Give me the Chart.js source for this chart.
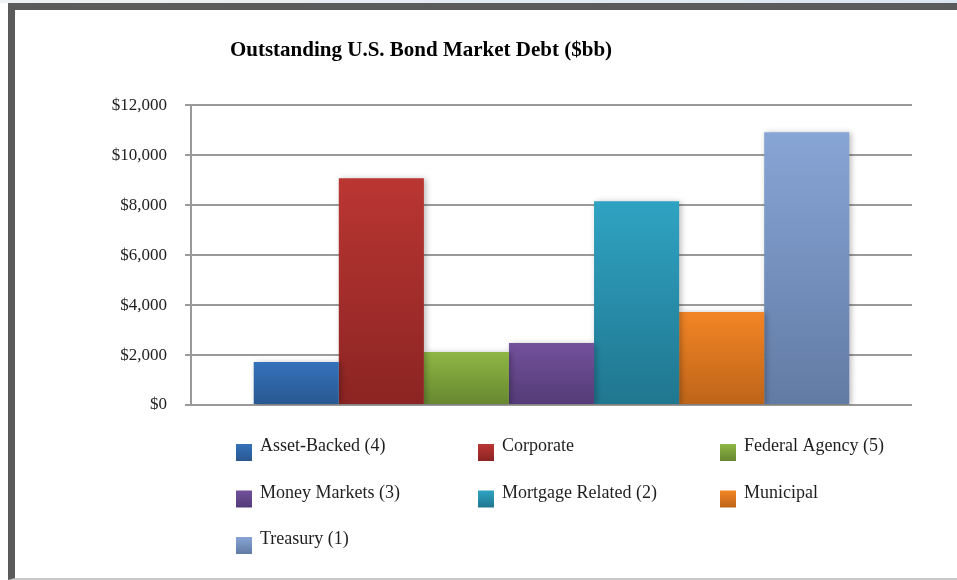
<!DOCTYPE html>
<html>
<head>
<meta charset="utf-8">
<script src="https://cdn.jsdelivr.net/npm/chart.js@4.4.1/dist/chart.umd.min.js"></script>
<style>
  html, body { margin: 0; padding: 0; }
  body { width: 957px; height: 580px; position: relative; overflow: hidden; background: #fff; }
  #strip { position: absolute; left: 0; top: 0; width: 957px; height: 3px;
    background: linear-gradient(to right, #eef1f4, #dce6f0); }
  #frame { position: absolute; left: 8px; top: 3px; width: 960px; height: 568px;
    background: #fff; border-top: 7px solid #5b5b5b; border-left: 7px solid #5b5b5b;
    border-bottom: 2px solid #c8c8c8; }
  #wrap { position: absolute; left: 0; top: 0; width: 957px; height: 580px; }
</style>
</head>
<body>
<div id="strip"></div>
<div id="frame"></div>
<div id="wrap"><canvas id="bondchart"></canvas></div>
<script>
'use strict';
var categories = ['Asset-Backed (4)', 'Corporate', 'Federal Agency (5)', 'Money Markets (3)',
  'Mortgage Related (2)', 'Municipal', 'Treasury (1)'];
var debt = [1720, 9080, 2120, 2480, 8160, 3720, 10920];
var topColors = ['#3471ba', '#ba3633', '#8fb644', '#72519b', '#2fa3c2', '#f28525', '#87a5d5'];
var bottomColors = ['#295890', '#8b2422', '#678731', '#543b77', '#20768f', '#bd6419', '#627ba5'];
var yTicks = [0, 2000, 4000, 6000, 8000, 10000, 12000];

var serif = '"Liberation Serif", "DejaVu Serif", serif';

//vertical gradient for one bar, from its top down to zero
function barGradient(i) {
  return function(c) {
    var chart = c.chart;
    if (!chart.chartArea || !chart.scales.y) return topColors[i];
    var y = chart.scales.y;
    var top = y.getPixelForValue(debt[i]);
    var bot = y.getPixelForValue(0);
    var g = chart.ctx.createLinearGradient(0, top, 0, bot);
    g.addColorStop(0, topColors[i]);
    g.addColorStop(1, bottomColors[i]);
    return g;
  };
}

var datasets = [];
for (var i in categories) {
  datasets.push({
    label: categories[i],
    data: [debt[i]],
    backgroundColor: barGradient(i),
    borderWidth: 0
  });
}

//move the title left like the original
var titlePlace = {
  id: 'titlePlace',
  afterLayout: function(chart) {
    chart.titleBlock.left = 10;
    chart.titleBlock.right = 832;
  }
};

//soft shadow behind the bars
var barShadow = {
  id: 'barShadow',
  beforeDatasetsDraw: function(chart) {
    var ctx = chart.ctx;
    ctx.save();
    ctx.shadowColor = 'rgba(0,0,0,0.28)';
    ctx.shadowBlur = 6;
    ctx.shadowOffsetX = 2;
    ctx.shadowOffsetY = 1;
  },
  afterDatasetsDraw: function(chart) {
    chart.ctx.restore();
  }
};

//legend in a 3 column grid under the plot
var gridLegend = {
  id: 'gridLegend',
  afterDraw: function(chart) {
    var ctx = chart.ctx;
    ctx.save();
    ctx.font = '18px ' + serif;
    ctx.textBaseline = 'alphabetic';
    ctx.textAlign = 'left';
    for (var i = 0; i < categories.length; i++) {
      var col = i % 3;
      var row = Math.floor(i / 3);
      var bx = 236 + col * 242;
      var by = 444 + row * 46.5;
      var g = ctx.createLinearGradient(0, by, 0, by + 17);
      g.addColorStop(0, topColors[i]);
      g.addColorStop(1, bottomColors[i]);
      ctx.fillStyle = g;
      ctx.fillRect(bx, by, 16, 17);
      ctx.fillStyle = '#1e1e1e';
      ctx.fillText(categories[i], bx + 24, by + 7);
    }
    ctx.restore();
  }
};

var ctx = document.getElementById('bondchart');
var myChart = new Chart(ctx, {
  type: 'bar',
  data: {
    labels: [''],
    datasets: datasets
  },
  options: {
    responsive: true,
    maintainAspectRatio: false,
    animation: false,
    categoryPercentage: 0.826,
    barPercentage: 1,
    layout: { padding: { left: 0, right: 45, top: 0, bottom: 175 } },
    plugins: {
      legend: { display: false },
      tooltip: { enabled: false },
      title: {
        display: true,
        text: 'Outstanding U.S. Bond Market Debt ($bb)',
        color: '#000',
        font: { family: serif, size: 21, weight: 'bold' },
        padding: { top: 38, bottom: 42 }
      }
    },
    scales: {
      x: { display: false },
      y: {
        min: 0,
        max: 12000,
        afterFit: function(scale) { scale.width = 191; },
        afterBuildTicks: function(scale) {
          scale.ticks = yTicks.map(function(v) { return { value: v }; });
        },
        border: { display: true, color: '#9a9a9a', width: 2 },
        grid: { color: '#9a9a9a', lineWidth: 2, tickLength: 6 },
        ticks: {
          padding: 18,
          color: '#1e1e1e',
          font: { family: serif, size: 17 },
          callback: function(v) { return '$' + v.toLocaleString('en-US'); }
        }
      }
    }
  },
  plugins: [titlePlace, barShadow, gridLegend]
});
</script>
</body>
</html>
